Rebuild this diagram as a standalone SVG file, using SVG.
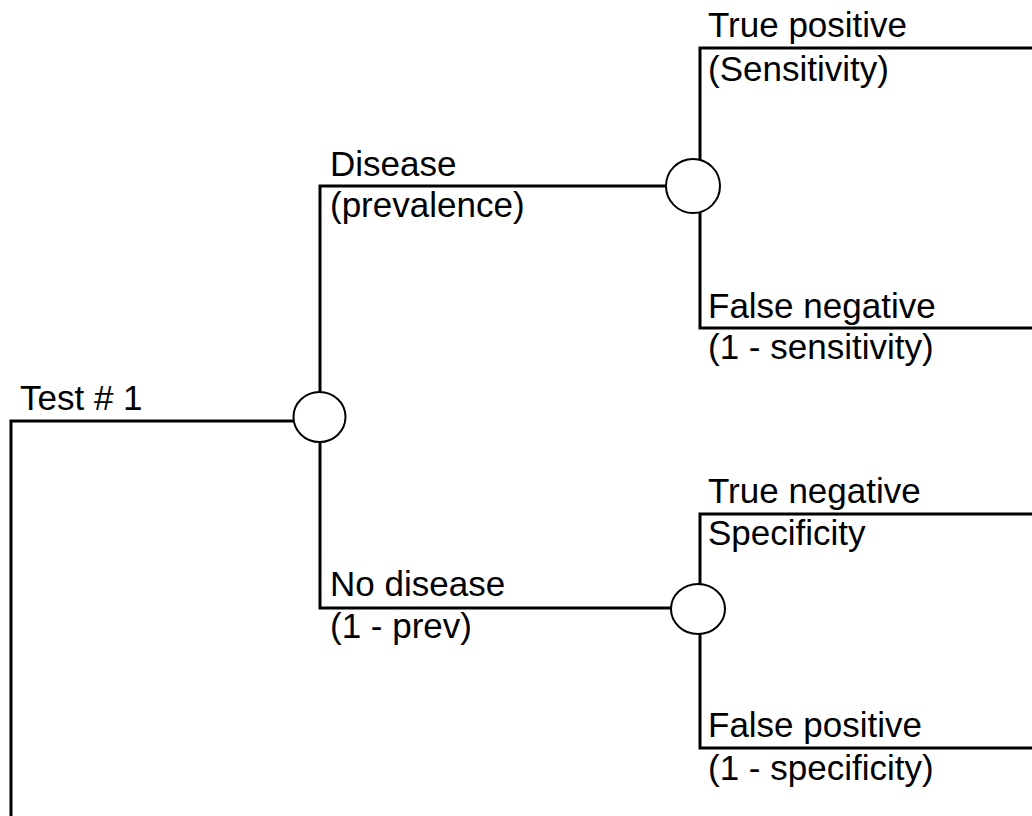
<svg xmlns="http://www.w3.org/2000/svg" width="1032" height="816" viewBox="0 0 1032 816">
<style>
.ln{fill:none;stroke:#000;stroke-width:3;stroke-linecap:square;stroke-linejoin:miter}
.ch{fill:#fff;stroke:#000;stroke-width:2}
text{font-family:"Liberation Sans",Arial,sans-serif;font-size:35px;fill:#000}
</style>
<rect width="1032" height="816" fill="#fff"/>
<g id="connectors">
<polyline class="ln" points="11,816 11,421 293,421"/>
<polyline class="ln" points="666,186 320,186 320,608 671,608"/>
<polyline class="ln" points="1032,48 700,48 700,328 1032,328"/>
<polyline class="ln" points="1032,514 700,514 700,748 1032,748"/>
</g>
<g id="chance1"><ellipse class="ch" cx="319.5" cy="417" rx="26" ry="25"/></g>
<g id="chance2"><ellipse class="ch" cx="693" cy="186" rx="27" ry="27"/></g>
<g id="chance3"><ellipse class="ch" cx="698" cy="609" rx="27" ry="25"/></g>
<g id="test1"><text x="20" y="410">Test # 1</text></g>
<g id="disease"><text x="330" y="176">Disease</text><text x="330" y="217">(prevalence)</text></g>
<g id="nodisease"><text x="330" y="596">No disease</text><text x="330" y="638">(1 - prev)</text></g>
<g id="truepos"><text x="708" y="37">True positive</text><text x="708" y="81">(Sensitivity)</text></g>
<g id="falseneg"><text x="708" y="318">False negative</text><text x="708" y="359">(1 - sensitivity)</text></g>
<g id="trueneg"><text x="708" y="503">True negative</text><text x="708" y="545">Specificity</text></g>
<g id="falsepos"><text x="708" y="737">False positive</text><text x="708" y="780">(1 - specificity)</text></g>
</svg>
